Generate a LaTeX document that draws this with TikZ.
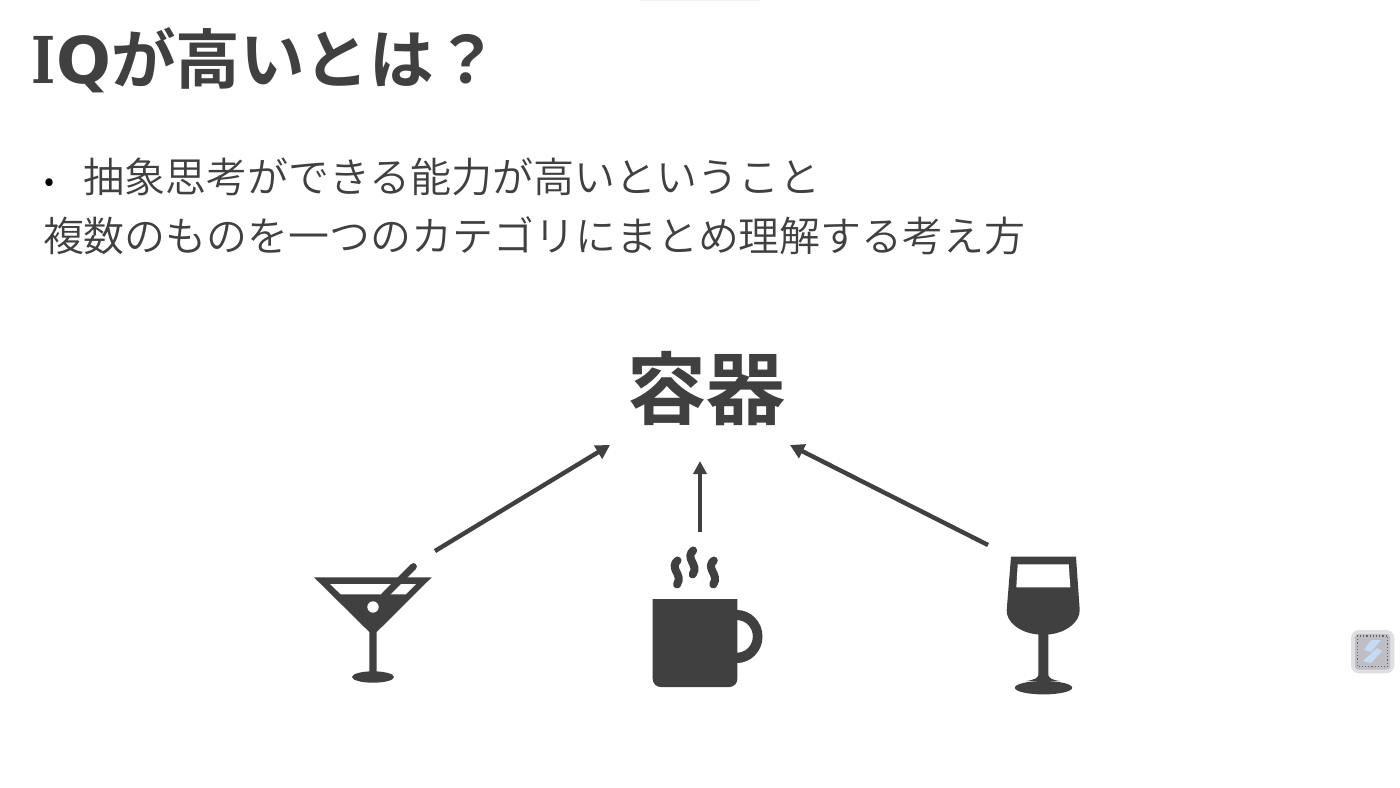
\documentclass[tikz,border=0pt]{standalone}
\usepackage{fontspec}
\usepackage{graphicx}
\newfontfamily\jpreg{Noto Sans CJK JP DemiLight}
\newfontfamily\jpbold{Noto Sans CJK JP Bold}
\newfontfamily\latinbold{DejaVu Sans Bold}
\newfontfamily\slabbold{DejaVu Serif Bold}
\definecolor{ink}{HTML}{404040}
\definecolor{widgetout}{HTML}{DFDFE3}
\definecolor{widgetin}{HTML}{BEBEC4}
\definecolor{widgetblue}{HTML}{C5DBF3}
\usetikzlibrary{arrows.meta}
\tikzset{
  txt/.style={inner sep=0pt,outer sep=0pt,anchor=west,text=ink},
  linkarrow/.style={draw=ink,line width=2.2pt,-{Triangle[length=7pt,width=7.5pt]}},
  thinarrow/.style={draw=ink,line width=1.8pt,-{Triangle[length=6.5pt,width=6.5pt]}},
  solid ink/.style={fill=ink,draw=none},
  hole/.style={fill=white,draw=none},
  steam/.style={draw=ink,line width=4pt,line cap=round}
}
\begin{document}
\begin{tikzpicture}[x=0.5pt,y=-0.5pt]
\useasboundingbox (0,0) rectangle (1400,787);
\fill[white] (0,0) rectangle (1400,787);
\fill[black!5] (640,0) rectangle (760,1);
% texts
\node[txt,font=\jpbold\fontsize{32.3pt}{32.3pt}\selectfont] (title) at (32,60) {\scalebox{0.8}[1]{\slabbold\fontsize{32.3pt}{32.3pt}\selectfont I}{\latinbold\fontsize{32.3pt}{32.3pt}\selectfont Q}が高いとは？};
\node[txt,font=\jpreg\fontsize{15pt}{15pt}\selectfont,text=black] (bullet) at (44,185) {•};
\node[txt,font=\jpreg\fontsize{20.5pt}{20.5pt}\selectfont] (line1) at (83,177) {抽象思考ができる能力が高いということ};
\node[txt,font=\jpreg\fontsize{20.47pt}{20.47pt}\selectfont] (line2) at (43,236) {複数のものを一つのカテゴリにまとめ理解する考え方};
\node[txt,font=\jpbold\fontsize{39.5pt}{39.5pt}\selectfont] (cat) at (627,389) {容器};
% connector ends
\coordinate (a1s) at (435,551); \coordinate (a1e) at (610,445);
\coordinate (a2s) at (700,532); \coordinate (a2e) at (700,461);
\coordinate (a3s) at (988,545); \coordinate (a3e) at (790,445);
\draw[linkarrow] (a1s) -- (a1e);
\draw[thinarrow] (a2s) -- (a2e);
\draw[linkarrow] (a3s) -- (a3e);
% martini
\fill[solid ink] (314,577.3) -- (431.7,577.3) -- (376.7,632) -- (376.7,672) -- (369.3,672) -- (369.3,632) -- cycle;
\fill[solid ink] (373,677) ellipse [x radius=21,y radius=5.7];
\fill[hole] (330,584) -- (416,584) -- (405.7,594.3) -- (340.7,594.3) -- cycle;
\fill[hole] (373,607) circle [radius=5.7];
\draw[ink,line width=3.4pt,line cap=round] (413.5,566.5) -- (384,596);
% mug
\fill[solid ink] (652.7,599) -- (737.3,599) -- (737.3,679) arc[start angle=0,end angle=90,radius=8] -- (660.7,687) arc[start angle=90,end angle=180,radius=8] -- cycle;
\fill[solid ink] (737,610) arc[start angle=-90,end angle=90,x radius=25.5,y radius=26.5] -- (737,652.7) arc[start angle=90,end angle=-90,x radius=15.8,y radius=16.3] -- cycle;
\foreach \dx/\dy in {0/0,15.7/-10,36.3/0}{
  \draw[steam,shift={(\dx*0.5pt,-\dy*0.5pt)}] (677.5,560.5) .. controls (674,563.5) and (674,567) .. (676,571) .. controls (678,575) and (680.5,579) .. (677,584.5);
}
% wine
\fill[solid ink] (1011,556.7) -- (1076,556.7) -- (1079.7,610) .. controls (1080,622) and (1066,633) .. (1048.3,634.5) -- (1048.3,675) .. controls (1049,678) and (1052,680) .. (1060,681) -- (1026,681) .. controls (1034,680) and (1038,678) .. (1038.3,675) -- (1038.3,634.5) .. controls (1020,633) and (1006,622) .. (1006.7,610) -- cycle;
\fill[solid ink] (1043.5,687.7) ellipse [x radius=28.7,y radius=6.7];
\fill[hole] (1017.7,564.3) -- (1068.7,564.3) -- (1070.3,587.3) -- (1016.3,587.3) -- cycle;
% widget
\fill[widgetout,rounded corners=4pt] (1351,630) rectangle (1394.3,673.3);
\fill[widgetin,rounded corners=1.5pt] (1355,634) rectangle (1390,669.5);
\draw[black!60,line width=0.6pt,densely dotted] (1357.3,636) rectangle (1387.7,666.7);
\fill[widgetblue] (1371,640) -- (1381,640) -- (1371,652) -- (1364,650) -- cycle;
\fill[widgetblue] (1377,648) -- (1382,651) -- (1371,663) -- (1363,661) -- cycle;
\end{tikzpicture}
\end{document}
